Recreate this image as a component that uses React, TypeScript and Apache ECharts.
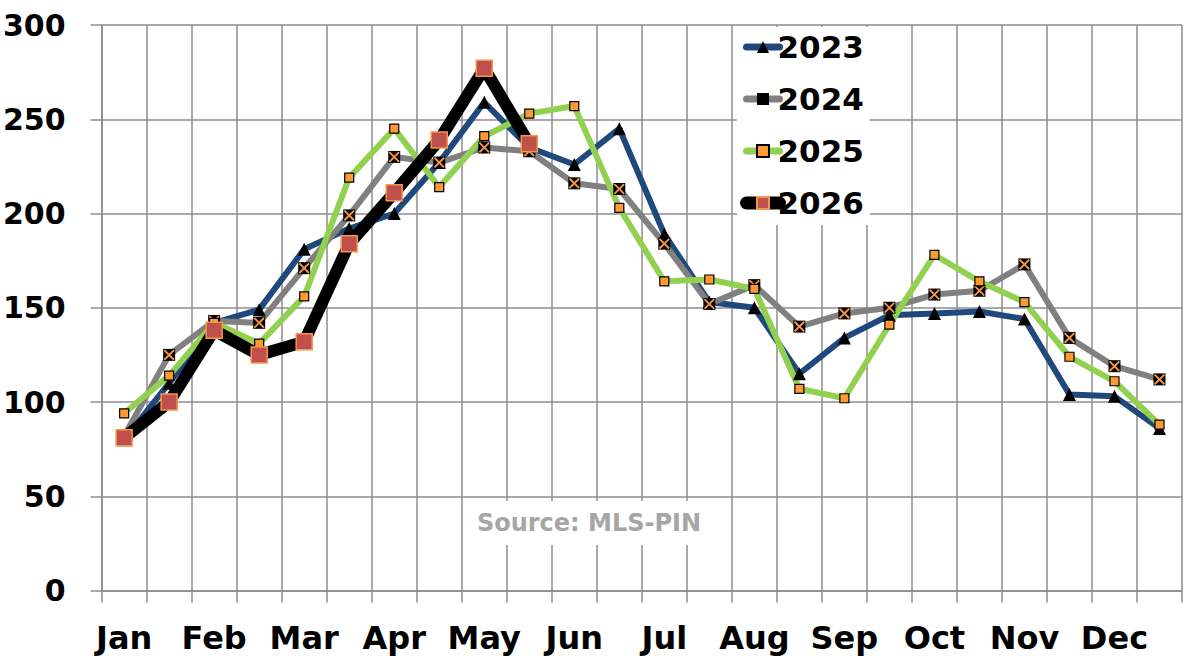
import React, { useEffect, useRef } from "react";
import * as echarts from "echarts";

const periods = [
  "Jan 1", "Jan 2", "Feb 1", "Feb 2", "Mar 1", "Mar 2", "Apr 1", "Apr 2",
  "May 1", "May 2", "Jun 1", "Jun 2", "Jul 1", "Jul 2", "Aug 1", "Aug 2",
  "Sep 1", "Sep 2", "Oct 1", "Oct 2", "Nov 1", "Nov 2", "Dec 1", "Dec 2",
];
const months = ["Jan", "Feb", "Mar", "Apr", "May", "Jun", "Jul", "Aug", "Sep", "Oct", "Nov", "Dec"];
const yTicks = [0, 50, 100, 150, 200, 250, 300];

const s2023 = [80, 110, 142, 149, 181, 192, 200, 227, 259, 235, 226, 245, 189, 153, 150, 115, 134, 146, 147, 148, 144, 104, 103, 86];
const s2024 = [82, 125, 143, 142, 171, 199, 230, 227, 235, 233, 216, 213, 184, 152, 162, 140, 147, 150, 157, 159, 173, 134, 119, 112];
const s2025 = [94, 114, 142, 131, 156, 219, 245, 214, 241, 253, 257, 203, 164, 165, 160, 107, 102, 141, 178, 164, 153, 124, 111, 88];
const s2026 = [81, 100, 138, 125, 132, 184, 211, 239, 277, 237];

const FONT = "DejaVu Sans";
const GRID = "#8c8c8c";

export default function App() {
  const ref = useRef<HTMLDivElement>(null);
  useEffect(() => {
    if (!ref.current) return;
    const chart = echarts.init(ref.current, null, { renderer: "svg" });
    const xMark = "path://M0,1.2L1.2,0L10,8.8L8.8,10Z M8.8,0L10,1.2L1.2,10L0,8.8Z";
    chart.setOption({
      animation: false,
      backgroundColor: "#ffffff",
      grid: { left: 101, right: 15, top: 25, bottom: 68.5, containLabel: false },
      legend: {
        orient: "vertical",
        left: 737,
        top: 27,
        data: [
          { name: "2023", lineStyle: { width: 7, cap: "round" } },
          { name: "2024", lineStyle: { width: 7, cap: "round" } },
          { name: "2025", lineStyle: { width: 7, cap: "round" } },
          { name: "2026", lineStyle: { width: 13, cap: "round" } },
        ],
        backgroundColor: "#ffffff",
        padding: [4, 6, 6, 3],
        itemWidth: 33,
        itemHeight: 15,
        itemGap: 20,
        lineStyle: { width: "inherit", cap: "round" },
        textStyle: { fontFamily: FONT, fontWeight: "bold", fontSize: 31, color: "#000", lineHeight: 32, padding: [0, 0, 0, -7] },
      },
      xAxis: {
        type: "category",
        data: periods,
        boundaryGap: true,
        axisLine: { show: true, lineStyle: { color: GRID, width: 1.5 } },
        axisTick: { show: true, interval: 0, length: 12, lineStyle: { color: GRID, width: 1.5 } },
        axisLabel: {
          show: true,
          interval: 0,
          margin: 31,
          fontFamily: FONT,
          fontWeight: "bold",
          fontSize: 32,
          color: "#000",
          formatter: (_v: string, i: number) => (i % 2 === 0 ? months[i / 2] : ""),
        },
        splitLine: { show: true, interval: 0, lineStyle: { color: GRID, width: 1.5 } },
      },
      yAxis: {
        type: "value",
        min: 0,
        max: 300,
        interval: 50,
        axisLine: { show: true, lineStyle: { color: GRID, width: 1.5 } },
        axisTick: { show: true, length: 11, lineStyle: { color: GRID, width: 1.5 } },
        splitLine: { show: true, lineStyle: { color: GRID, width: 1.5 } },
        axisLabel: {
          margin: 36,
          fontFamily: FONT,
          fontWeight: "bold",
          fontSize: 30,
          color: "#000",
          formatter: (v: number) => (yTicks.includes(v) ? String(v) : ""),
        },
      },
      series: [
        {
          name: "2023",
          type: "line",
          data: s2023,
          symbol: "triangle",
          symbolSize: 13,
          lineStyle: { color: "#1f497d", width: 6 },
          itemStyle: { color: "#000000" },
        },
        {
          name: "2024",
          type: "line",
          data: s2024,
          symbol: "rect",
          symbolSize: 12,
          lineStyle: { color: "#808080", width: 6 },
          itemStyle: { color: "#000000" },
        },
        {
          name: "2024x",
          type: "line",
          data: s2024,
          symbol: xMark,
          symbolSize: 11,
          silent: true,
          lineStyle: { width: 0, opacity: 0 },
          itemStyle: { color: "#f79646" },
        },
        {
          name: "2025",
          type: "line",
          data: s2025,
          symbol: "rect",
          symbolSize: 9,
          lineStyle: { color: "#92d050", width: 6 },
          itemStyle: { color: "#ff9933", borderColor: "#000000", borderWidth: 1.2 },
        },
        {
          name: "2026",
          type: "line",
          data: s2026,
          symbol: "rect",
          symbolSize: 16,
          lineStyle: { color: "#000000", width: 12, cap: "round" },
          itemStyle: { color: "#c0504d", borderColor: "#f79646", borderWidth: 1.5 },
        },
      ],
      graphic: [
        {
          type: "group",
          z: 1,
          children: [
            { type: "rect", z: 1, shape: { x: 468, y: 501, width: 240, height: 44 }, style: { fill: "#ffffff" } },
            {
              type: "text",
              z: 2,
              x: 589,
              y: 523,
              style: {
                text: "Source: MLS-PIN",
                fontFamily: FONT,
                fontWeight: "bold",
                fontSize: 24,
                fill: "#a6a6a6",
                align: "center",
                verticalAlign: "middle",
              },
            },
          ],
        },
      ],
    });
    return () => chart.dispose();
  }, []);
  return <div ref={ref} style={{ position: "fixed", left: 0, top: 0, width: 1197, height: 659 }} />;
}
